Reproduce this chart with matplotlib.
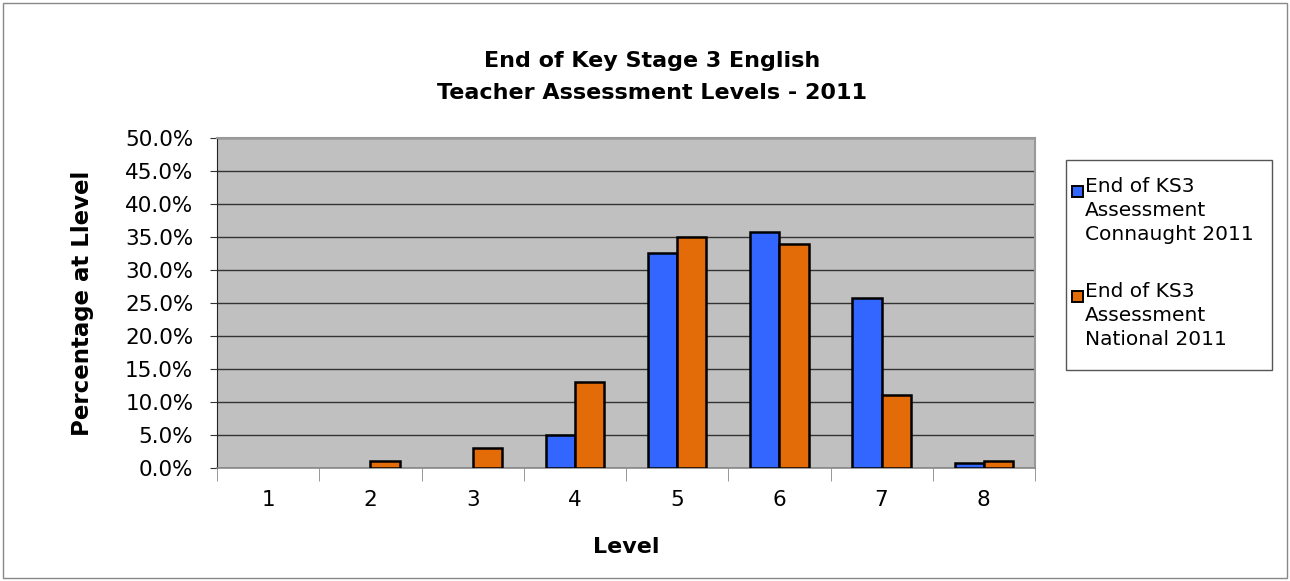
import matplotlib
matplotlib.use("Agg")
import matplotlib.pyplot as plt
from matplotlib.patches import Rectangle
import numpy as np

levels = ["1", "2", "3", "4", "5", "6", "7", "8"]
connaught = [0.0, 0.0, 0.0, 5.0, 32.5, 35.8, 25.8, 0.8]
national = [0.0, 1.0, 3.0, 13.0, 35.0, 34.0, 11.0, 1.0]
series_names = ["End of KS3\nAssessment\nConnaught 2011", "End of KS3\nAssessment\nNational 2011"]
series_colors = ['#3366FF', '#E36C09']
yticks = [0, 5, 10, 15, 20, 25, 30, 35, 40, 45, 50]

plt.rcParams['font.family'] = ['DejaVu Sans']

fig = plt.figure(figsize=(12.9, 5.81), dpi=100)
fig.patches.append(Rectangle((3/1290, 3/581), 1284/1290, 575/581, transform=fig.transFigure,
                             fill=False, edgecolor='#888888', linewidth=1.0))
ax = fig.add_axes([217/1290, 1 - 468/581, 818/1290, 330/581])
ax.set_facecolor('#C0C0C0')

x = np.arange(len(levels))
w = 0.285
for vals, off, col, name in [(connaught, -w/2, series_colors[0], series_names[0]),
                              (national, w/2, series_colors[1], series_names[1])]:
    lws = [1.8 if v > 0 else 0 for v in vals]
    ax.bar(x + off, vals, w, color=col, edgecolor='black', linewidth=lws, label=name, zorder=3)

ax.set_xlim(-0.5, len(levels) - 0.5)
ax.set_ylim(0, 50)
ax.set_yticks(yticks)
ax.set_yticklabels([f"{v:.1f}%" for v in yticks], fontsize=15.5)
ax.yaxis.grid(True, color='#333333', linewidth=1.0, zorder=0)
ax.set_axisbelow(True)

ax.set_xticks(x)
ax.set_xticklabels(levels, fontsize=15.5)
ax.tick_params(axis='x', which='major', length=0, pad=16)
ax.set_xticks(np.arange(-0.5, len(levels), 1), minor=True)
ax.tick_params(axis='x', which='minor', length=9, color='#888888', direction='out')
ax.tick_params(axis='y', length=5, color='#333333', direction='out', pad=12)

for s in ['top', 'right']:
    ax.spines[s].set_color('#999999')
    ax.spines[s].set_linewidth(1.5)
ax.spines['left'].set_color('#222222')
ax.spines['bottom'].set_color('#888888')
ax.spines['bottom'].set_linewidth(1.2)

ax.set_xlabel("Level", fontsize=16, fontweight='bold', labelpad=19)
ax.set_ylabel("Percentage at Llevel", fontsize=16.5, fontweight='bold', labelpad=22)

fig.text(652/1290, 1 - 77/581, "End of Key Stage 3 English\nTeacher Assessment Levels - 2011",
         ha='center', va='center', fontsize=16, fontweight='bold', linespacing=1.7)

# Legend (drawn as a boxed key)
lx0, ly0, lx1, ly1 = 1066, 160, 1272, 370
fig.patches.append(Rectangle((lx0/1290, 1 - ly1/581), (lx1 - lx0)/1290, (ly1 - ly0)/581,
                             transform=fig.transFigure, facecolor='white',
                             edgecolor='#555555', linewidth=1.0))
for i, (name, col) in enumerate(zip(series_names, series_colors)):
    top = 177 + i * 105
    fig.patches.append(Rectangle((1072/1290, 1 - (top + 20)/581), 11/1290, 11/581,
                                 transform=fig.transFigure, facecolor=col,
                                 edgecolor='black', linewidth=1.4))
    fig.text(1085/1290, 1 - top/581, name, ha='left', va='top', fontsize=14.5, linespacing=1.35)

fig.savefig("out.png", dpi=100)
